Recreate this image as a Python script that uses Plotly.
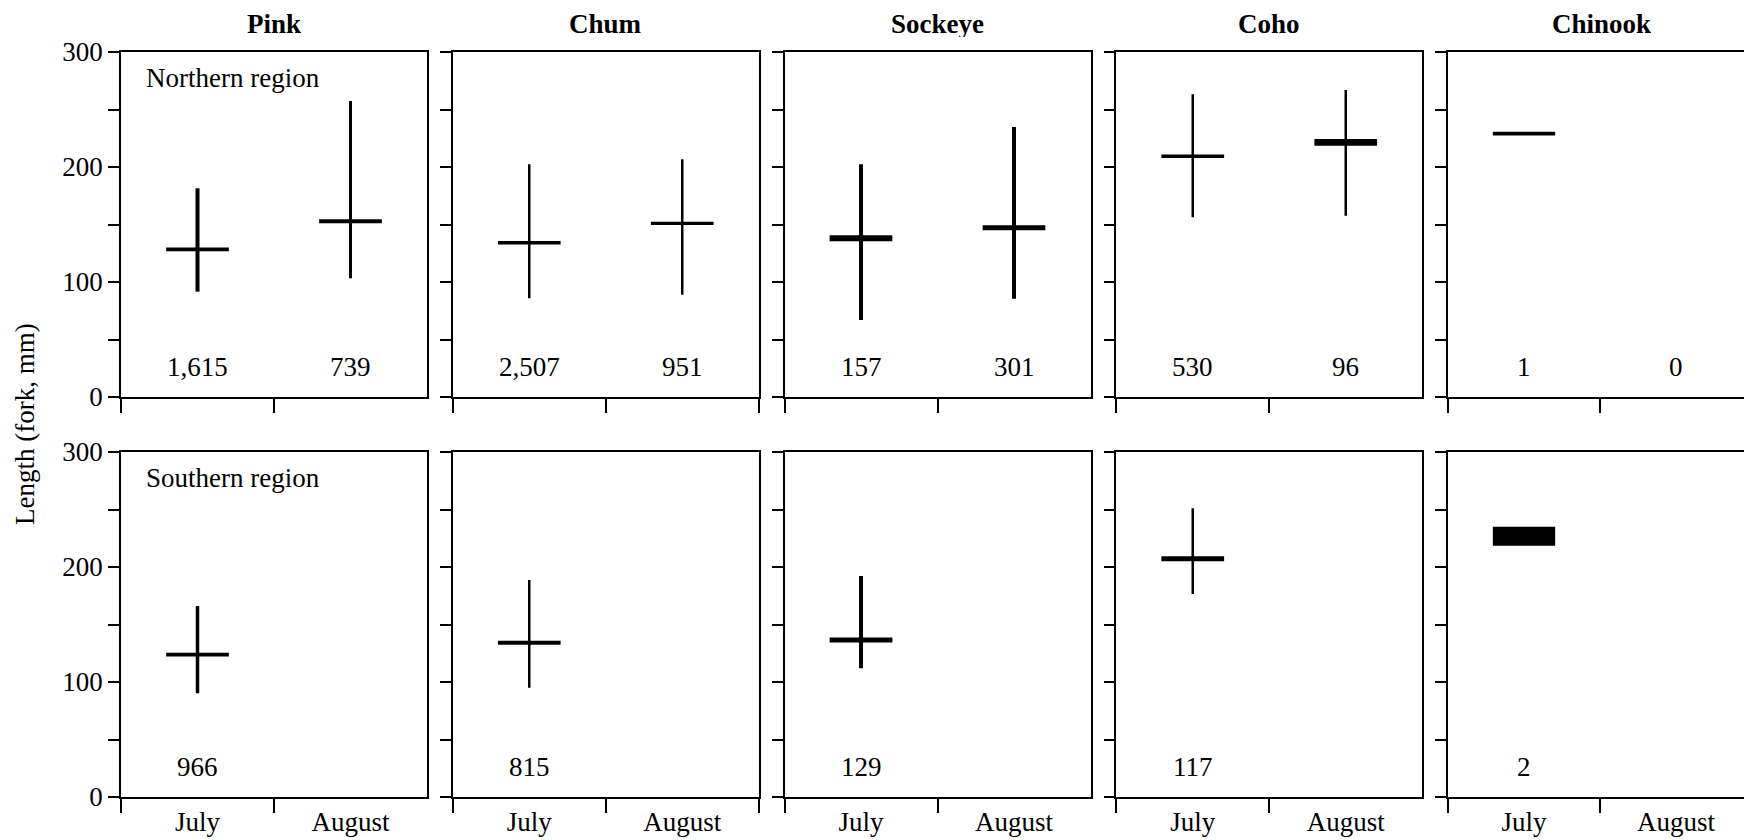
import plotly.graph_objects as go
from plotly.subplots import make_subplots

# ---------------- data ----------------
species = ["Pink", "Chum", "Sockeye", "Coho", "Chinook"]
months = ["July", "August"]
regions = ["Northern region", "Southern region"]

# Northern region
north_n_july = [1615, 2507, 157, 530, 1]
north_n_aug = [739, 951, 301, 96, 0]
north_mean_july = [128.4, 134.2, 138.0, 209.3, 229.0]
north_mean_aug = [152.8, 151.0, 147.2, 221.4, None]
north_ci_july = [1.7, 1.5, 2.6, 1.5, 1.7]
north_ci_aug = [1.7, 1.5, 2.2, 3.0, None]
north_min_july = [91.6, 85.8, 67.0, 156.3, None]
north_max_july = [181.5, 202.3, 202.3, 263.2, None]
north_min_aug = [103.2, 89.0, 85.5, 157.7, None]
north_max_aug = [257.4, 206.7, 234.8, 267.0, None]

# Southern region (July only)
south_n_july = [966, 815, 129, 117, 2]
south_mean_july = [123.8, 134.2, 136.5, 207.2, 226.7]
south_ci_july = [1.7, 1.7, 2.2, 2.2, 8.3]
south_min_july = [90.2, 95.0, 111.9, 176.5, None]
south_max_july = [166.0, 188.7, 192.2, 251.0, None]

y_ticks = [0, 50, 100, 150, 200, 250, 300]
y_ticktext = ["0", "", "100", "", "200", "", "300"]

# ---------------- style ----------------
FONT = "Liberation Serif, Times New Roman, serif"
FS = 27
OFF = 8                      # page body margin
W, H = 1752 - OFF, 840 - OFF
north_vwidth_july = [4, 2.5, 4, 2.5, 2.5]
north_vwidth_aug = [3, 2.5, 4, 2.5, 2.5]
south_vwidth_july = [3.5, 2.5, 4, 2.5, 2.5]


def ref(prefix, k):
    return prefix if k == 1 else f"{prefix}{k}"


def px_x(p):
    return (p - OFF) / W


def px_y(p):
    return 1 - (p - OFF) / H


fig = make_subplots(rows=2, cols=5)

rows_data = [
    dict(n=[north_n_july, north_n_aug], mean=[north_mean_july, north_mean_aug],
         ci=[north_ci_july, north_ci_aug], lo=[north_min_july, north_min_aug],
         hi=[north_max_july, north_max_aug], vw=[north_vwidth_july, north_vwidth_aug]),
    dict(n=[south_n_july, [None] * 5], mean=[south_mean_july, [None] * 5],
         ci=[south_ci_july, [None] * 5], lo=[south_min_july, [None] * 5],
         hi=[south_max_july, [None] * 5], vw=[south_vwidth_july, south_vwidth_july]),
]

annotations = []
for r, rd in enumerate(rows_data):
    for c, sp in enumerate(species):
        k = r * 5 + c + 1
        xs, bases, heights = [], [], []
        for m, month in enumerate(months):
            mean = rd["mean"][m][c]
            ci = rd["ci"][m][c]
            if mean is not None:
                xs.append(month)
                bases.append(mean - ci)
                heights.append(2 * ci)
            lo = rd["lo"][m][c]
            hi = rd["hi"][m][c]
            if lo is not None:
                fig.add_trace(go.Scatter(x=[month, month], y=[lo, hi], mode="lines",
                                         line=dict(color="black", width=rd["vw"][m][c]),
                                         showlegend=False, hoverinfo="skip"),
                              row=r + 1, col=c + 1)
            n = rd["n"][m][c]
            if n is not None:
                annotations.append(dict(x=month, y=26, xref=ref("x", k), yref=ref("y", k),
                                        text=f"{n:,}", showarrow=False,
                                        font=dict(family=FONT, size=FS, color="black"),
                                        yanchor="middle"))
        if xs:
            fig.add_trace(go.Bar(x=xs, y=heights, base=bases, width=0.41,
                                 marker=dict(color="black", line=dict(width=0)),
                                 showlegend=False, hoverinfo="skip"),
                          row=r + 1, col=c + 1)

# ---------------- layout ----------------
step = 331.75
pw = 306
row_px = [(52, 397), (452, 797)]
for r in range(2):
    for c in range(5):
        k = r * 5 + c + 1
        left = px_x(121 + c * step)
        right = min(px_x(121 + c * step + pw), 1.0)
        fig.layout[ref("xaxis", k)].update(
            domain=[left, right], type="category", categoryorder="array",
            categoryarray=months, range=[-0.5, 1.5], tickson="boundaries",
            ticks="outside", ticklen=14, tickwidth=2, tickcolor="black",
            showline=True, linewidth=1.5, linecolor="black", mirror=True,
            showgrid=False, zeroline=False, showticklabels=(r == 1),
            automargin=False,
            tickfont=dict(family=FONT, size=FS, color="black"))
        fig.layout[ref("yaxis", k)].update(
            domain=[px_y(row_px[r][1]), px_y(row_px[r][0])], range=[0, 300],
            tickmode="array", tickvals=y_ticks, ticktext=y_ticktext,
            ticks="outside", ticklen=11, tickwidth=2, tickcolor="black",
            showline=True, linewidth=1.5, linecolor="black", mirror=(c < 4),
            showgrid=False, zeroline=False, showticklabels=(c == 0),
            automargin=False,
            tickfont=dict(family=FONT, size=FS, color="black"))

# species titles
for c, sp in enumerate(species):
    annotations.append(dict(x=px_x(121 + c * step + pw / 2), y=1.0,
                            xref="paper", yref="paper",
                            text=f"<b>{sp}</b>", showarrow=False,
                            font=dict(family=FONT, size=FS, color="black"),
                            xanchor="center", yanchor="top", height=27,
                            valign="middle"))

# region labels
for r, reg in enumerate(regions):
    k = r * 5 + 1
    annotations.append(dict(x=0.075, y=0.925, xref=ref("x", k) + " domain",
                            yref=ref("y", k) + " domain",
                            text=reg, showarrow=False, xanchor="left", yanchor="middle",
                            font=dict(family=FONT, size=FS, color="black")))

# y-axis title
annotations.append(dict(x=px_x(25), y=px_y(424), xref="paper", yref="paper",
                        text="Length (fork, mm)", textangle=-90, showarrow=False,
                        xanchor="center", yanchor="middle",
                        font=dict(family=FONT, size=FS, color="black")))

fig.update_layout(width=W, height=H,
                  margin=dict(l=0, r=0, t=0, b=0, pad=0, autoexpand=False),
                  autosize=False,
                  plot_bgcolor="white", paper_bgcolor="white",
                  annotations=annotations, barmode="overlay",
                  font=dict(family=FONT, size=FS, color="black"))

fig.write_html("out.html")
